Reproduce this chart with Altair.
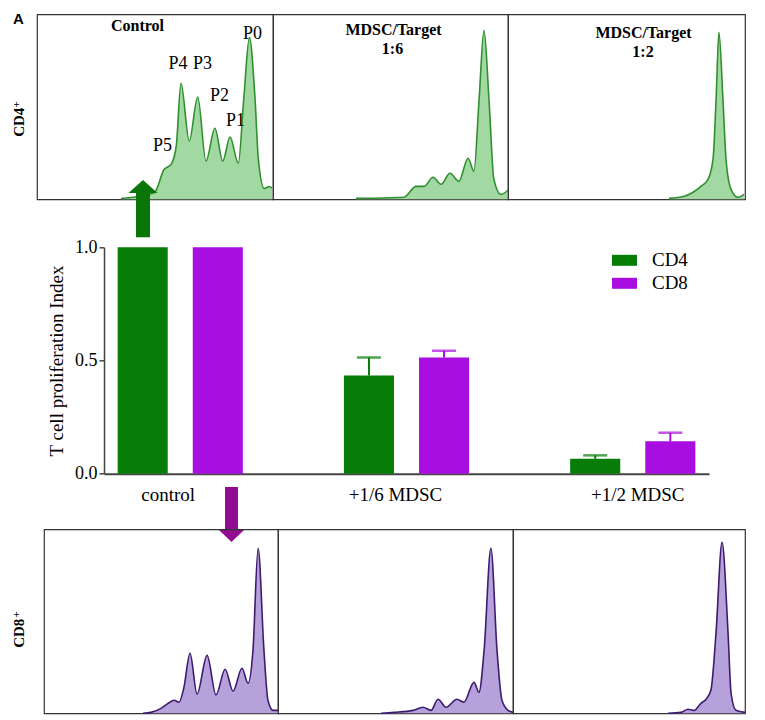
import altair as alt
import pandas as pd

SERIF = "Liberation Serif"
SANS = "Liberation Sans"

# ---------------- bar chart data ----------------
groups = ["control", "+1/6 MDSC", "+1/2 MDSC"]
cells = ["CD4", "CD8"]
cd4_index = [1.0, 0.434, 0.066]
cd8_index = [1.0, 0.513, 0.143]
cd4_err = [0.0, 0.079, 0.015]
cd8_err = [0.0, 0.030, 0.038]

# ---------------- histogram data (fluorescence 0-100, relative count 0-100) ----------------
cd4_ctrl_x = [35.6, 49.7, 53.9, 56.8, 59.0, 61.0, 64.5, 68.1, 71.6, 75.4, 78.7, 81.8, 85.3, 87.6, 90.0, 92.4, 93.8, 96.3, 98.4, 99.6]
cd4_ctrl_y = [0.4, 3.6, 16.2, 18.9, 28.8, 62.7, 31.5, 55.3, 20.7, 38.4, 20.7, 33.7, 19.5, 54.1, 87.4, 54.1, 21.6, 5.8, 6.9, 6.0]
cd4_16_x = [35.3, 55.7, 60.9, 64.3, 68.1, 71.5, 75.3, 79.1, 83.0, 85.5, 87.7, 89.8, 91.9, 94.0, 97.0, 100.0]
cd4_16_y = [0.5, 1.1, 7.0, 7.0, 11.9, 8.1, 14.1, 9.7, 22.2, 15.1, 54.1, 91.4, 54.1, 10.8, 2.7, 4.9]
cd4_12_x = [67.9, 74.3, 78.1, 81.4, 84.4, 86.5, 87.8, 89.0, 90.7, 92.0, 94.1, 97.0, 99.6]
cd4_12_y = [0.5, 1.6, 3.8, 7.0, 10.8, 21.6, 54.1, 90.3, 54.1, 21.6, 5.4, 1.1, 2.7]

cd8_ctrl_x = [42.3, 45.7, 50.0, 53.0, 55.6, 57.7, 59.8, 62.4, 65.4, 69.7, 73.5, 77.4, 80.8, 84.6, 87.2, 89.3, 91.5, 94.0, 95.7, 97.9, 100.0]
cd8_ctrl_y = [0.0, 0.5, 2.7, 5.4, 7.1, 6.0, 14.1, 32.6, 10.5, 31.5, 10.0, 23.9, 12.0, 24.5, 16.3, 34.2, 89.7, 34.2, 7.1, 1.6, 1.6]
cd8_16_x = [43.8, 49.4, 57.4, 61.7, 65.1, 68.1, 71.5, 76.2, 79.1, 83.4, 85.5, 87.7, 90.6, 93.2, 95.3, 97.9, 100.0]
cd8_16_y = [0.0, 0.5, 1.6, 3.3, 1.6, 7.6, 3.3, 7.6, 6.0, 16.8, 11.4, 34.2, 89.7, 34.2, 7.1, 1.6, 0.5]
cd8_12_x = [66.8, 72.4, 75.4, 78.0, 81.0, 83.2, 85.3, 87.5, 90.1, 92.7, 94.0, 96.1, 100.0]
cd8_12_y = [0.0, 0.5, 2.2, 1.6, 5.4, 7.6, 12.5, 43.5, 92.9, 43.5, 10.9, 1.6, 0.5]

# ---------------- styles ----------------
GREEN = "#077c07"
PURPLE = "#a90ee0"
GREEN_ARROW = "#0a760a"
PURPLE_ARROW = "#910c91"
TOP_FILL = "#a2d8a2"
TOP_LINE = "#2f902f"
BOT_FILL = "#b6a1da"
BOT_LINE = "#3c1c70"
FRAME = "#333333"


def txt(s, x, y, size, weight="normal", font=SERIF, angle=0, align="center", color="black"):
    return alt.Chart(pd.DataFrame({"t": [s]})).mark_text(
        font=font, fontSize=size, fontWeight=weight, angle=angle,
        align=align, baseline="alphabetic", color=color
    ).encode(text="t:N", x=alt.value(x), y=alt.value(y))


def spacer(w, h):
    return alt.Chart(pd.DataFrame({"t": [""]})).mark_text(fontSize=1).encode(
        text="t:N", x=alt.value(w / 2), y=alt.value(h / 2)
    ).properties(width=w, height=h)


def hist(xs, ys, fill, line, w, h, extra):
    df = pd.DataFrame({"f": xs, "c": ys})
    xenc = alt.X("f:Q", scale=alt.Scale(domain=[0, 100], nice=False, zero=False), axis=None)
    yenc = alt.Y("c:Q", scale=alt.Scale(domain=[0, 100], nice=False), axis=None)
    area = alt.Chart(df).mark_area(interpolate="monotone", color=fill, opacity=1).encode(x=xenc, y=yenc)
    ln = alt.Chart(df).mark_line(interpolate="monotone", color=line, strokeWidth=1.6).encode(x=xenc, y=yenc)
    return alt.layer(area, ln, *extra).properties(
        width=w, height=h, view=alt.ViewBackground(stroke=FRAME, strokeWidth=1.2)
    )


# ---------------- top row (CD4+) ----------------
TOP_H = 185
top_label = alt.layer(
    txt("A", 9.5, 10, 15, "bold", SANS),
    txt("CD4", 14.5, 108, 15, "bold", angle=270),
    txt("+", 11, 90, 11, "bold", angle=270),
).properties(width=28, height=TOP_H)

p1 = hist(cd4_ctrl_x, cd4_ctrl_y, TOP_FILL, TOP_LINE, 236, TOP_H, [
    txt("Control", 100.5, 17, 16, "bold"),
    txt("P0", 215.5, 25, 18),
    txt("P4", 141, 55, 18),
    txt("P3", 165.5, 55, 18),
    txt("P2", 182.5, 86.5, 18),
    txt("P1", 198.5, 112, 18),
    txt("P5", 125.5, 136.5, 18),
])
p2 = hist(cd4_16_x, cd4_16_y, TOP_FILL, TOP_LINE, 235, TOP_H, [
    txt("MDSC/Target", 120.5, 20.5, 16, "bold"),
    txt("1:6", 119.5, 40, 16, "bold"),
])
p3 = hist(cd4_12_x, cd4_12_y, TOP_FILL, TOP_LINE, 237, TOP_H, [
    txt("MDSC/Target", 135.5, 23.5, 16, "bold"),
    txt("1:2", 135, 43, 16, "bold"),
])
top_row = alt.hconcat(top_label, p1, p2, p3, spacing=0, bounds="flush")

# ---------------- bar chart ----------------
bar_df = pd.DataFrame({
    "group": groups * 2,
    "cell": ["CD4"] * 3 + ["CD8"] * 3,
    "index": cd4_index + cd8_index,
    "err": cd4_err + cd8_err,
})
bar_df["upper"] = bar_df["index"] + bar_df["err"]

xenc = alt.X("group:N", sort=groups,
             scale=alt.Scale(paddingInner=0.336, paddingOuter=0.005),
             axis=alt.Axis(title=None, labelAngle=0, labelFont=SERIF, labelFontSize=19,
                           labelColor="black", ticks=False, domainColor="#444",
                           domainWidth=2, labelPadding=12,
                           labelOffset=alt.ExprRef(
                               "datum.value === 'control' ? -12 : (datum.value === '+1/6 MDSC' ? -11 : 5)")))
xoff = alt.XOffset("cell:N", sort=cells, scale=alt.Scale(paddingInner=1 / 3, paddingOuter=1 / 6))
color_scale = alt.Scale(domain=cells, range=[GREEN, PURPLE])

bars = alt.Chart(bar_df).mark_bar().encode(
    x=xenc, xOffset=xoff,
    y=alt.Y("index:Q", scale=alt.Scale(domain=[0, 1], nice=False),
            axis=alt.Axis(values=[0, 0.5, 1], format=".1f", title="T cell proliferation Index",
                          grid=False, tickSize=5, tickWidth=1.5, tickColor="#444",
                          domainColor="#444", domainWidth=1.5, labelFont=SERIF,
                          labelFontSize=18, labelColor="black", labelPadding=2,
                          titleFont=SERIF, titleFontSize=19, titleFontWeight="normal",
                          titleColor="black", titlePadding=8)),
    color=alt.Color("cell:N", scale=color_scale, legend=alt.Legend(
        title=None, orient="none", legendX=606, legendY=236.5, padding=0,
        symbolType="M-1.667,-0.733H1.667V0.733H-1.667Z", symbolSize=225,
        symbolStrokeWidth=0, labelFont=SERIF, labelFontSize=19, labelColor="black",
        labelOffset=18, rowPadding=3)),
)
errs = alt.Chart(bar_df).transform_filter("datum.err > 0")
err_rule = errs.mark_rule(strokeWidth=2).encode(
    x=xenc, xOffset=xoff, y="index:Q", y2="upper:Q",
    color=alt.Color("cell:N", scale=color_scale, legend=None))
err_cap = errs.mark_tick(thickness=2.5, size=24, orient="horizontal").encode(
    x=xenc, xOffset=xoff, y="upper:Q",
    color=alt.Color("cell:N", scale=color_scale, legend=None))

# arrows linking histograms and control bars (bar-chart pixel frame)
arrows = [
    alt.Chart(pd.DataFrame({"t": [0]})).mark_rule(color=GREEN_ARROW, strokeWidth=14).encode(
        x=alt.value(39), y=alt.value(-55), y2=alt.value(-10)),
    alt.Chart(pd.DataFrame({"t": [0]})).mark_point(
        shape="M-1,0.45L0,-0.45L1,0.45Z", size=841, filled=True, color=GREEN_ARROW, opacity=1, strokeWidth=0
    ).encode(x=alt.value(39), y=alt.value(-60.8)),
    alt.Chart(pd.DataFrame({"t": [0]})).mark_rule(color=PURPLE_ARROW, strokeWidth=13).encode(
        x=alt.value(127.5), y=alt.value(239.7), y2=alt.value(284)),
    alt.Chart(pd.DataFrame({"t": [0]})).mark_point(
        shape="M-1,-0.48L1,-0.48L0,0.48Z", size=625, filled=True, color=PURPLE_ARROW, opacity=1, strokeWidth=0
    ).encode(x=alt.value(127.5), y=alt.value(288.7)),
]

bar_chart = alt.layer(bars, err_rule, err_cap, *arrows).properties(width=605, height=226.4)
mid_row = alt.hconcat(spacer(95, 226.4), bar_chart, spacing=0, bounds="flush")

# ---------------- bottom row (CD8+) ----------------
BOT_H = 184
bot_label = alt.layer(
    txt("CD8", 14.5, 104, 15, "bold", angle=270),
    txt("+", 11, 85, 11, "bold", angle=270),
).properties(width=35, height=BOT_H)
b1 = hist(cd8_ctrl_x, cd8_ctrl_y, BOT_FILL, BOT_LINE, 234, BOT_H, [])
b2 = hist(cd8_16_x, cd8_16_y, BOT_FILL, BOT_LINE, 235, BOT_H, [])
b3 = hist(cd8_12_x, cd8_12_y, BOT_FILL, BOT_LINE, 232, BOT_H, [])
bot_row = alt.hconcat(bot_label, b1, b2, b3, spacing=0, bounds="flush")

# nested rows take no height in a flush layout, so the spacers carry the row offsets
chart = alt.vconcat(
    top_row, spacer(1, 232.3), mid_row, spacer(1, 281.7), bot_row,
    spacing=0, bounds="flush"
).properties(
    padding={"left": 0, "top": 3.3, "right": 0, "bottom": 0},
    background="white",
).configure_view(stroke="transparent")

chart.save("out.html", embed_options={"renderer": "svg", "actions": False})
